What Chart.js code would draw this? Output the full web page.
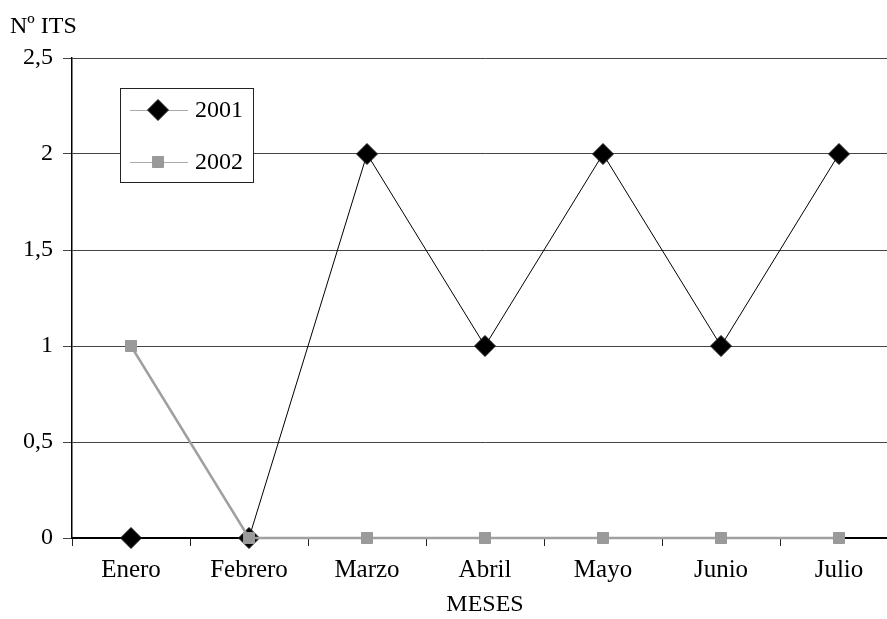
<!DOCTYPE html>
<html>
<head>
<meta charset="utf-8">
<script src="https://cdn.jsdelivr.net/npm/chart.js@4/dist/chart.umd.min.js"></script>
<style>
  html, body { margin: 0; padding: 0; background: #fff; overflow: hidden; }
  canvas { display: block; }
</style>
</head>
<body>
<canvas id="itsChart" width="900" height="619"></canvas>
<script>
const meses = ['Enero', 'Febrero', 'Marzo', 'Abril', 'Mayo', 'Junio', 'Julio'];
const its2001 = [0, 0, 2, 1, 2, 1, 2];
const its2002 = [1, 0, 0, 0, 0, 0, 0];
const yTicks = [0, 0.5, 1, 1.5, 2, 2.5];

const FONT = "'Liberation Serif', 'Times New Roman', serif";

// Legend box floating inside the plot, plus the "Nº ITS" caption above the axis
const boxLegend = {
    id: 'boxLegend',
    afterDraw(chart) {
        const ctx = chart.ctx;
        const items = chart.data.datasets.slice().sort((a, b) => a.legendRank - b.legendRank);
        ctx.save();
        ctx.fillStyle = '#fff';
        ctx.fillRect(120, 88, 133, 94);
        ctx.strokeStyle = '#222';
        ctx.lineWidth = 1;
        ctx.strokeRect(120.5, 88.5, 133, 94);
        items.forEach((ds, i) => {
            const y = 110 + i * 52;
            ctx.strokeStyle = '#aaa';
            ctx.lineWidth = 1;
            ctx.beginPath();
            ctx.moveTo(130, y + 0.5);
            ctx.lineTo(188, y + 0.5);
            ctx.stroke();
            ctx.fillStyle = ds.backgroundColor;
            ctx.strokeStyle = ds.pointBorderColor;
            ctx.lineWidth = 1;
            Chart.helpers.drawPoint(ctx, {
                pointStyle: ds.pointStyle,
                radius: ds.pointRadius,
                borderWidth: 1
            }, 158, y);
            ctx.fillStyle = '#000';
            ctx.font = '24px ' + FONT;
            ctx.textBaseline = 'middle';
            ctx.textAlign = 'left';
            ctx.fillText(ds.label, 195, y + 1);
        });
        ctx.fillStyle = '#000';
        ctx.font = '24px ' + FONT;
        ctx.textBaseline = 'alphabetic';
        ctx.fillText('Nº ITS', 10, 33);
        ctx.restore();
    }
};

Chart.register(boxLegend);

const ctx = document.getElementById('itsChart').getContext('2d');
const chart = new Chart(ctx, {
    type: 'line',
    data: {
        labels: meses,
        datasets: [{
            label: '2002',
            legendRank: 1,
            data: its2002,
            borderColor: '#a0a0a0',
            backgroundColor: '#9a9a9a',
            pointBorderColor: '#999',
            borderWidth: 2.5,
            pointStyle: 'rect',
            pointRadius: 7.8,
            pointBorderWidth: 1,
            tension: 0,
            clip: false,
            order: 0
        }, {
            label: '2001',
            legendRank: 0,
            data: its2001,
            borderColor: '#000',
            backgroundColor: '#000',
            pointBorderColor: '#222',
            borderWidth: 1,
            pointStyle: 'rectRot',
            pointRadius: 10.5,
            pointBorderWidth: 1,
            tension: 0,
            clip: false,
            order: 1
        }]
    },
    options: {
        responsive: false,
        animation: false,
        layout: {
            autoPadding: false,
            padding: { top: 58, right: 2, left: 0, bottom: 0 }
        },
        plugins: {
            legend: { display: false },
            tooltip: { enabled: false }
        },
        scales: {
            x: {
                offset: true,
                grid: {
                    offset: true,
                    drawOnChartArea: false,
                    tickLength: 8,
                    color: '#222'
                },
                border: { color: '#000', width: 2 },
                ticks: {
                    color: '#000',
                    font: { family: FONT, size: 25 },
                    padding: 9,
                    maxRotation: 0
                },
                title: {
                    display: true,
                    text: 'MESES',
                    color: '#000',
                    font: { family: FONT, size: 24 },
                    padding: { top: 2, bottom: 0 }
                },
                afterFit(scale) { scale.height = 81; }
            },
            y: {
                min: 0,
                max: 2.5,
                afterBuildTicks(scale) {
                    scale.ticks = yTicks.map(v => ({ value: v }));
                },
                grid: {
                    color: '#444',
                    lineWidth: 1,
                    tickLength: 9
                },
                border: { color: '#000', width: 1.5 },
                ticks: {
                    color: '#000',
                    font: { family: FONT, size: 24 },
                    padding: 10,
                    callback: v => String(v).replace('.', ',')
                },
                afterFit(scale) { scale.width = 72; }
            }
        }
    }
});
</script>
</body>
</html>
